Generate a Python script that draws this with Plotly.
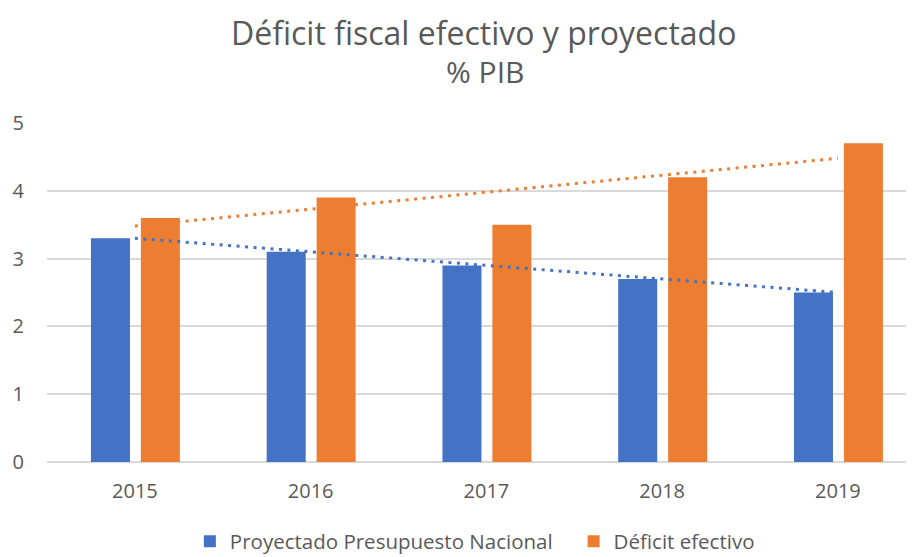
import numpy as np
import plotly.graph_objects as go

years = ["2015", "2016", "2017", "2018", "2019"]
proyectado = [3.3, 3.1, 2.9, 2.7, 2.5]
efectivo = [3.6, 3.9, 3.5, 4.2, 4.7]
y_ticks = [0, 1, 2, 3, 4, 5]

BLUE = "#4472C4"
ORANGE = "#ED7D31"
TXT = "#595959"
FONT = "Open Sans"

idx = np.arange(len(years))
trend_p = np.polyval(np.polyfit(idx, proyectado, 1), idx)
trend_e = np.polyval(np.polyfit(idx, efectivo, 1), idx)

fig = go.Figure()
fig.add_trace(go.Bar(x=years, y=proyectado, name="Proyectado Presupuesto Nacional\u00a0\u00a0\u00a0",
                     marker=dict(color=BLUE, line=dict(width=0)), width=0.222, offset=-0.25))
fig.add_trace(go.Bar(x=years, y=efectivo, name="Déficit efectivo",
                     marker=dict(color=ORANGE, line=dict(width=0)), width=0.222, offset=0.034))
fig.add_trace(go.Scatter(x=years, y=trend_p, mode="lines", showlegend=False,
                         line=dict(color=BLUE, width=3, dash="3px,5.5px")))
fig.add_trace(go.Scatter(x=years, y=trend_e, mode="lines", showlegend=False,
                         line=dict(color=ORANGE, width=3, dash="3px,5.5px")))

fig.update_layout(
    width=906, height=575,
    margin=dict(l=39, r=0, t=115, b=121),
    paper_bgcolor="white", plot_bgcolor="white",
    barmode="group",
    font=dict(family=FONT, color=TXT, size=20),
    showlegend=True,
    legend=dict(orientation="h", x=0.4935, xanchor="center", y=-0.234, yanchor="middle",
                font=dict(size=20.5, color=TXT), itemwidth=30, tracegroupgap=0),
    xaxis=dict(range=[-0.5, 4.433], showgrid=False, showline=False, ticks="", automargin=False,
               tickfont=dict(size=20, color=TXT), ticklabelstandoff=15),
    yaxis=dict(range=[0, 5], tickvals=y_ticks, showgrid=True, gridcolor="#D9D9D9", gridwidth=1.5,
               zeroline=True, zerolinecolor="#D9D9D9", zerolinewidth=1.5, showline=False,
               automargin=False, ticks="", tickfont=dict(size=20, color=TXT), ticklabelstandoff=22),
    annotations=[
        dict(text="Déficit fiscal efectivo y proyectado", xref="paper", yref="paper",
             x=0.504, y=1.268, xanchor="center", yanchor="middle", showarrow=False,
             font=dict(size=32, color=TXT, family=FONT)),
        dict(text="% PIB", xref="paper", yref="paper",
             x=0.505, y=1.153, xanchor="center", yanchor="middle", showarrow=False,
             font=dict(size=30, color=TXT, family=FONT)),
    ],
)

fig.write_html("out.html")
